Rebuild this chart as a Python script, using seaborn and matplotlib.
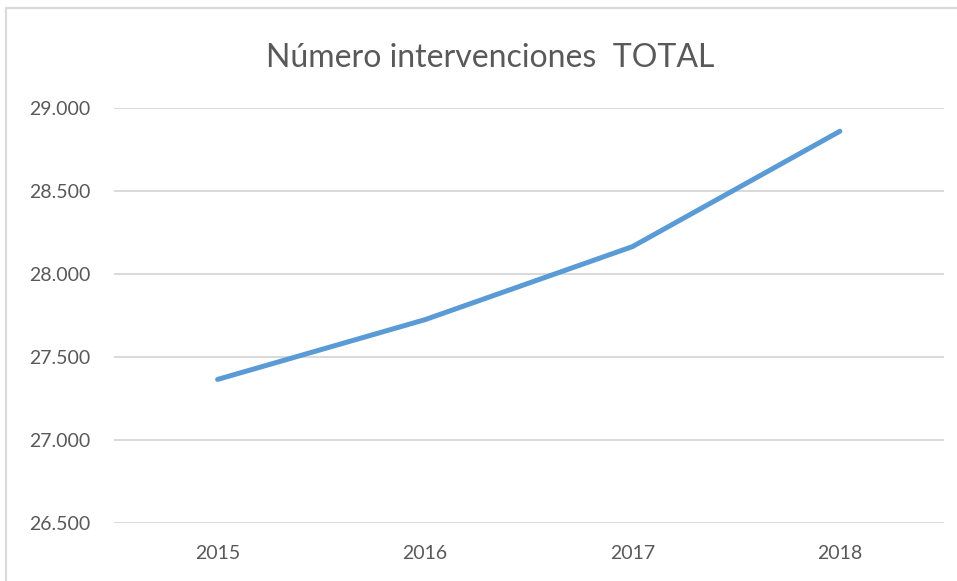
import matplotlib
matplotlib.use("Agg")
import matplotlib.pyplot as plt
import seaborn as sns
import pandas as pd
from matplotlib.lines import Line2D
from matplotlib.ticker import FuncFormatter

years = ["2015", "2016", "2017", "2018"]
intervenciones = [27365, 27725, 28165, 28860]

df = pd.DataFrame({"Año": years, "Intervenciones": intervenciones})

sns.set_style("white")
plt.rcParams["font.family"] = ["Lato", "DejaVu Sans"]

fig = plt.figure(figsize=(9.57, 5.81), dpi=100)
ax = fig.add_axes([0.119, 0.0998, 0.867, 0.7143])

# outer chart border (left and top only, the rest is cut off)
bx, by = 6 / 957, 1 - 8 / 581
fig.lines.append(Line2D([bx, bx], [0, by], transform=fig.transFigure,
                        color="#D9D9D9", linewidth=1.5))
fig.lines.append(Line2D([bx, 1], [by, by], transform=fig.transFigure,
                        color="#D9D9D9", linewidth=1.5))

sns.lineplot(data=df, x="Año", y="Intervenciones", ax=ax, color="#5B9BD5",
             linewidth=3.6, sort=False, solid_capstyle="round")

ax.set_ylim(26500, 29000)
ax.set_yticks([26500, 27000, 27500, 28000, 28500, 29000])
ax.yaxis.set_major_formatter(FuncFormatter(lambda v, p: f"{int(v):,}".replace(",", ".")))
ax.set_xlim(-0.5, 3.5)
ax.grid(axis="y", color="#D9D9D9", linewidth=1.4)
ax.set_axisbelow(True)
for s in ax.spines.values():
    s.set_visible(False)
ax.tick_params(axis="both", length=0, labelsize=14, colors="#595959")
ax.tick_params(axis="y", pad=17)
ax.tick_params(axis="x", pad=16)
ax.set_xlabel("")
ax.set_ylabel("")

fig.text(0.512, 0.9, "Número intervenciones  TOTAL", ha="center", va="center",
         fontsize=23, color="#595959")

fig.savefig("out.png", dpi=100)
